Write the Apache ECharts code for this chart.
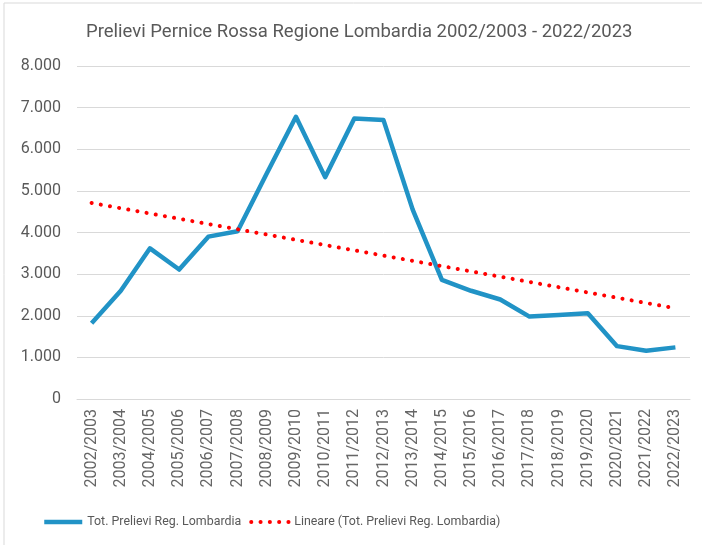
<!DOCTYPE html>
<html>
<head>
<meta charset="utf-8">
<script src="https://cdn.jsdelivr.net/npm/echarts@6/dist/echarts.min.js"></script>
<style>
  html, body { margin: 0; padding: 0; background: #fff; }
  #main { width: 702px; height: 545px; }
</style>
</head>
<body>
<div id="main"></div>
<script>
// stagioni venatorie
var seasons = ['2002/2003', '2003/2004', '2004/2005', '2005/2006', '2006/2007', '2007/2008',
    '2008/2009', '2009/2010', '2010/2011', '2011/2012', '2012/2013', '2013/2014', '2014/2015',
    '2015/2016', '2016/2017', '2017/2018', '2018/2019', '2019/2020', '2020/2021', '2021/2022',
    '2022/2023'];

// prelievi totali
var totPrelievi = [1820, 2600, 3620, 3110, 3900, 4030, 5420, 6780, 5330, 6740, 6700,
    4550, 2860, 2600, 2390, 1980, 2020, 2060, 1270, 1160, 1240];

// estremi della linea di tendenza
var trendStart = [0, 4710];
var trendEnd = [20, 2180];

var yTicks = { min: 0, max: 8000, step: 1000 };

var nameTot = 'Tot. Prelievi Reg. Lombardia';
var nameTrend = 'Lineare (Tot. Prelievi Reg. Lombardia)';

var textColor = '#595959';
var mainFont = 'Roboto, "Noto Sans", sans-serif';
var blue = '#2193c6';
var red = '#ff0000';
var dots = [0.1, 9.2];

var myChart = echarts.init(document.getElementById('main'));

var option = {
    backgroundColor: '#fff',
    animation: false,
    graphic: [{
        type: 'rect',
        shape: { x: 4, y: 3, width: 800, height: 800 },
        style: { fill: 'none', stroke: '#d9d9d9', lineWidth: 1 },
        silent: true
    }],
    title: {
        text: 'Prelievi Pernice Rossa Regione Lombardia 2002/2003 - 2022/2023',
        left: 81,
        top: 18,
        textStyle: { color: textColor, fontSize: 18.5, fontWeight: 'normal', fontFamily: mainFont }
    },
    legend: {
        left: 37,
        top: 511,
        itemWidth: 38,
        itemHeight: 10,
        itemGap: 8,
        itemStyle: { opacity: 0 },
        textStyle: { color: textColor, fontSize: 12.4, fontFamily: mainFont },
        data: [
            { name: nameTot, lineStyle: { width: 4.5, color: blue } },
            { name: nameTrend, lineStyle: { width: 4, color: red, type: dots, cap: 'round' } }
        ]
    },
    grid: { left: 77, right: 12, top: 66, bottom: 146 },
    xAxis: {
        type: 'category',
        data: seasons,
        boundaryGap: true,
        axisLine: { show: true, lineStyle: { color: '#d9d9d9' } },
        axisTick: { show: false },
        axisLabel: { rotate: 90, color: '#666', fontSize: 16, fontFamily: mainFont, margin: 10 }
    },
    yAxis: {
        type: 'value',
        min: yTicks.min,
        max: yTicks.max,
        interval: yTicks.step,
        axisLine: { show: false },
        axisTick: { show: false },
        splitLine: { lineStyle: { color: '#d9d9d9', width: 1 } },
        axisLabel: {
            color: textColor, fontSize: 16, fontFamily: mainFont, margin: 16,
            formatter: function (v) {
                return String(v).replace(/\B(?=(\d{3})+(?!\d))/g, '.');
            }
        }
    },
    series: [{
        name: nameTot,
        type: 'line',
        data: totPrelievi,
        symbol: 'none',
        color: blue,
        lineStyle: { color: blue, width: 4.5, join: 'round' }
    }, {
        name: nameTrend,
        type: 'line',
        data: [trendStart, trendEnd],
        symbol: 'none',
        color: red,
        lineStyle: { color: red, width: 4, type: dots, cap: 'round' }
    }]
};

myChart.setOption(option);
</script>
</body>
</html>
